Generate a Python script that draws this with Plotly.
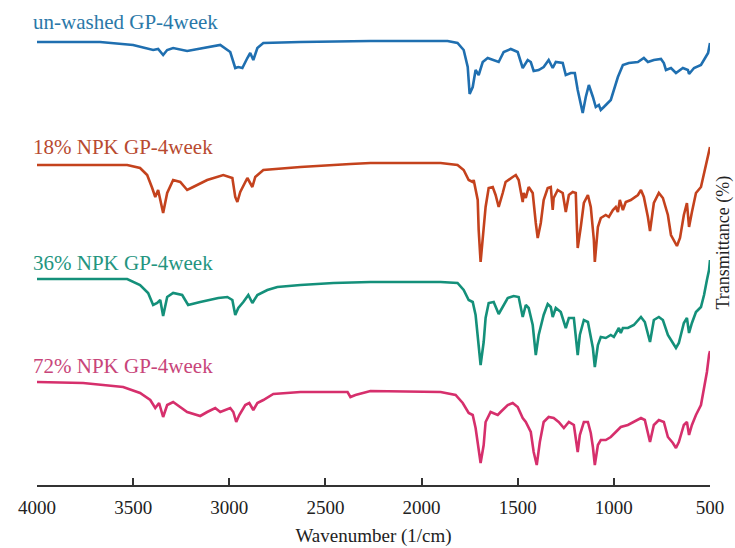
import plotly.graph_objects as go

# FTIR spectra of GP samples after 4 weeks (stacked, offset transmittance, a.u.)

wn_unwashed = [4000, 3672, 3500, 3396, 3370, 3344, 3323, 3292, 3219, 3115, 3047, 2995, 2969, 2953,
               2932, 2906, 2891, 2875, 2854, 2823, 2630, 2266, 1865, 1813, 1781, 1760, 1750, 1734,
               1719, 1703, 1682, 1656, 1630, 1599, 1573, 1536, 1500, 1474, 1448, 1432, 1417, 1391,
               1365, 1339, 1318, 1302, 1266, 1250, 1224, 1203, 1188, 1162, 1146, 1130, 1109, 1094,
               1078, 1068, 1052, 1016, 979, 953, 922, 875, 844, 823, 792, 755, 740, 729, 703, 677,
               641, 615, 609, 583, 547, 521, 510, 500]
t_unwashed = [443, 443, 440, 435, 436, 430, 435, 437, 434, 438, 440, 433, 417, 418,
              417, 427, 432, 425, 437, 442, 443, 444, 444, 442, 435, 418, 391, 398,
              415, 410, 423, 427, 425, 423, 433, 436, 433, 417, 425, 423, 414, 415,
              418, 425, 417, 423, 422, 410, 412, 412, 395, 372, 388, 400, 388, 378,
              380, 375, 378, 385, 408, 420, 422, 423, 427, 423, 425, 426, 422, 415, 417, 412,
              417, 415, 411, 417, 420, 428, 432, 442]

wn_npk18 = [4000, 3531, 3464, 3427, 3401, 3385, 3370, 3344, 3323, 3292, 3255, 3219, 3188, 3115,
            3031, 2984, 2969, 2958, 2943, 2906, 2880, 2865, 2823, 2630, 2370, 2266, 1901, 1813,
            1781, 1755, 1734, 1729, 1708, 1703, 1693, 1682, 1667, 1651, 1630, 1615, 1599, 1578,
            1563, 1526, 1510, 1495, 1474, 1469, 1458, 1443, 1422, 1406, 1396, 1380, 1365, 1344,
            1328, 1318, 1313, 1292, 1266, 1250, 1234, 1214, 1198, 1193, 1188, 1172, 1156, 1135,
            1120, 1104, 1099, 1083, 1068, 1042, 1026, 1005, 990, 979, 969, 953, 938, 912, 875,
            859, 844, 823, 812, 792, 766, 745, 719, 703, 688, 672, 656, 636, 620, 609, 594, 573,
            547, 531, 516, 505, 500]
t_npk18 = [320, 320, 317, 310, 297, 288, 295, 272, 292, 305, 303, 295, 298, 305,
           310, 307, 288, 283, 293, 307, 298, 308, 315, 318, 321, 322, 322, 320,
           315, 305, 303, 305, 285, 255, 223, 245, 278, 297, 298, 290, 278, 292,
           303, 308, 310, 305, 283, 292, 287, 298, 292, 262, 247, 262, 285, 297,
           298, 275, 287, 295, 292, 273, 290, 293, 292, 262, 237, 258, 282, 290,
           278, 245, 223, 258, 267, 270, 268, 275, 278, 273, 285, 275, 283, 285, 290,
           295, 288, 268, 254, 282, 292, 287, 270, 250, 245, 239, 247, 270, 282, 258, 273, 292,
           298, 312, 322, 333, 338]

wn_npk36 = [4000, 3531, 3464, 3422, 3396, 3375, 3359, 3344, 3323, 3292, 3245, 3214, 3151, 3099,
            3057, 3010, 2984, 2969, 2953, 2927, 2901, 2880, 2854, 2802, 2750, 2630, 2458, 2266,
            1901, 1813, 1781, 1755, 1734, 1719, 1703, 1693, 1677, 1667, 1651, 1625, 1599, 1578,
            1552, 1521, 1495, 1474, 1458, 1443, 1422, 1406, 1391, 1365, 1344, 1328, 1318, 1302,
            1276, 1250, 1234, 1208, 1198, 1188, 1177, 1156, 1135, 1120, 1109, 1099, 1083, 1068,
            1042, 1016, 1000, 974, 964, 953, 927, 896, 859, 839, 823, 812, 792, 766, 745, 719,
            693, 677, 662, 636, 620, 609, 594, 573, 547, 531, 516, 505, 500]
t_npk36 = [206, 206, 200, 192, 180, 182, 185, 169, 188, 192, 190, 180, 183, 185,
           187, 188, 185, 170, 177, 183, 190, 182, 190, 195, 198, 200, 202, 203,
           203, 202, 195, 185, 183, 170, 143, 120, 143, 167, 182, 183, 171, 178,
           187, 189, 188, 168, 180, 177, 160, 130, 150, 170, 181, 178, 168, 177,
           173, 157, 167, 167, 148, 130, 150, 165, 163, 150, 137, 118, 140, 148,
           147, 150, 148, 157, 152, 157, 157, 160, 168, 163, 150, 143, 165, 168, 165, 150,
           142, 137, 142, 162, 167, 152, 162, 173, 178, 190, 205, 215, 225]

wn_npk72 = [4000, 3760, 3552, 3464, 3411, 3385, 3365, 3344, 3323, 3292, 3219, 3151, 3115, 3073,
            3047, 2995, 2979, 2964, 2948, 2917, 2896, 2875, 2854, 2823, 2771, 2630, 2458, 2385,
            2370, 2344, 2266, 1901, 1823, 1786, 1755, 1734, 1719, 1703, 1693, 1677, 1667, 1641,
            1604, 1589, 1552, 1526, 1500, 1474, 1458, 1432, 1417, 1401, 1385, 1365, 1339, 1313,
            1287, 1260, 1234, 1208, 1198, 1188, 1177, 1156, 1135, 1120, 1109, 1099, 1083, 1068,
            1042, 1016, 990, 964, 927, 896, 859, 839, 823, 812, 792, 766, 740, 719, 693, 677,
            662, 636, 620, 609, 594, 573, 547, 531, 516, 505, 500]
t_npk72 = [103, 102, 98, 92, 85, 77, 82, 68, 80, 83, 73, 69, 73, 77,
           73, 77, 73, 63, 70, 80, 82, 75, 82, 85, 91, 93, 93, 93,
           88, 90, 94, 93, 90, 82, 72, 70, 57, 33, 22, 40, 63, 73,
           70, 73, 80, 82, 78, 67, 63, 53, 33, 20, 43, 63, 68, 67,
           63, 57, 63, 60, 47, 33, 50, 63, 63, 52, 38, 20, 40, 45,
           45, 48, 53, 58, 60, 63, 67, 65, 53, 43, 60, 65, 63, 48, 42, 37,
           43, 60, 63, 50, 60, 70, 80, 97, 113, 130, 134]

series_names = ["un-washed GP-4week", "18% NPK GP-4week", "36% NPK GP-4week", "72% NPK GP-4week"]
series_x = [wn_unwashed, wn_npk18, wn_npk36, wn_npk72]
series_y = [t_unwashed, t_npk18, t_npk36, t_npk72]
label_y = [463, 338, 222, 119]

line_colors = ["#1f6fb0", "#c4421d", "#14907a", "#d62f6c"]
label_colors = ["#2a78a8", "#b84a30", "#24957f", "#c8457a"]

x_ticks = [4000, 3500, 3000, 2500, 2000, 1500, 1000, 500]

serif = "Liberation Serif, Times New Roman, serif"

fig = go.Figure()
for name, xs, ys, col in zip(series_names, series_x, series_y, line_colors):
    fig.add_trace(go.Scatter(x=xs, y=ys, mode="lines", name=name,
                             line=dict(color=col, width=2.6), showlegend=False))

for name, ly, col in zip(series_names, label_y, label_colors):
    fig.add_annotation(x=4000, y=ly, xref="x", yref="y", text=name, showarrow=False,
                       xanchor="left", yanchor="middle", xshift=-6,
                       font=dict(family=serif, size=21, color=col))

fig.add_annotation(x=1.0195, y=0.5, xref="paper", yref="paper", text="Transmittance (%)",
                   showarrow=False, textangle=-90, xanchor="center", yanchor="middle",
                   font=dict(family=serif, size=18, color="#222"))

fig.update_xaxes(range=[4000, 500], tickvals=x_ticks, ticktext=[str(v) for v in x_ticks],
                 showline=True, linecolor="#333", linewidth=1.5, ticks="inside",
                 ticklen=7, tickwidth=1.5, tickcolor="#333", showgrid=False, zeroline=False,
                 ticklabelstandoff=4,
                 tickfont=dict(family=serif, size=19, color="#222"),
                 title=dict(text="Wavenumber (1/cm)", standoff=12,
                            font=dict(family=serif, size=19, color="#222")))
fig.update_yaxes(range=[0, 485], visible=False)

fig.update_layout(width=735, height=548, margin=dict(l=37, r=25, t=0, b=63),
                  plot_bgcolor="white", paper_bgcolor="white")

fig.write_html("out.html")
